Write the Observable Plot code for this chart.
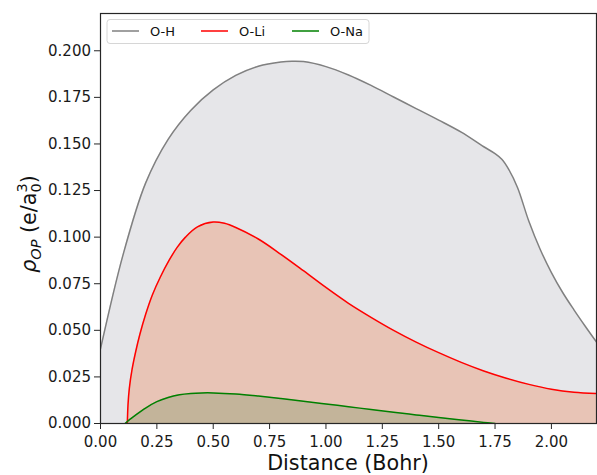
<!DOCTYPE html>
<html>
<head>
<meta charset="utf-8">
<script src="https://cdn.jsdelivr.net/npm/d3@7"></script>
<script src="https://cdn.jsdelivr.net/npm/@observablehq/plot@0.6"></script>
<style>
  html, body { margin: 0; padding: 0; background: #fff; }
  #chart svg { display: block; }
</style>
</head>
<body>
<div id="chart"></div>
<script>
// ---- data ----
const seriesNames = ["O-H", "O-Li", "O-Na"];

const ohX = [0, 0.1, 0.2, 0.3, 0.4, 0.5, 0.6, 0.7, 0.8, 0.85, 0.9, 1.0, 1.1, 1.2, 1.3, 1.4, 1.5, 1.6, 1.7, 1.75, 1.78, 1.81, 1.85, 1.90, 1.95, 2.00, 2.05, 2.10, 2.15, 2.20];
const ohY = [0.040, 0.0905, 0.129, 0.1525, 0.168, 0.179, 0.1868, 0.1917, 0.194, 0.1944, 0.1942, 0.1915, 0.187, 0.1814, 0.1752, 0.169, 0.1628, 0.1563, 0.1485, 0.1448, 0.1418, 0.1365, 0.1265, 0.1085, 0.0935, 0.081, 0.0703, 0.061, 0.0522, 0.0437];

const liX = [0.119, 0.122, 0.128, 0.14, 0.156, 0.175, 0.2, 0.23, 0.265, 0.304, 0.34, 0.377, 0.43, 0.5, 0.55, 0.6, 0.7, 0.8, 0.9, 1.0, 1.1, 1.2, 1.3, 1.4, 1.5, 1.6, 1.7, 1.8, 1.9, 2.0, 2.1, 2.2];
const liY = [0, 0.010, 0.019, 0.029, 0.0385, 0.048, 0.0585, 0.069, 0.0785, 0.0875, 0.0945, 0.100, 0.1055, 0.1081, 0.1074, 0.1052, 0.099, 0.0908, 0.082, 0.073, 0.0645, 0.057, 0.050, 0.0437, 0.038, 0.0328, 0.0282, 0.0243, 0.021, 0.0184, 0.0168, 0.0161];

const naX = [0.109, 0.13, 0.15, 0.2, 0.25, 0.3, 0.35, 0.4, 0.45, 0.5, 0.6, 0.7, 0.8, 0.9, 1.0, 1.1, 1.2, 1.3, 1.4, 1.5, 1.6, 1.7, 1.75];
const naY = [0, 0.0022, 0.004, 0.0083, 0.0117, 0.014, 0.0154, 0.0161, 0.0164, 0.0164, 0.0158, 0.0147, 0.0134, 0.012, 0.0105, 0.009, 0.0075, 0.006, 0.0046, 0.0032, 0.0019, 0.0006, 0];

const xTicks = [0, 0.25, 0.5, 0.75, 1.0, 1.25, 1.5, 1.75, 2.0];
const yTicks = [0, 0.025, 0.05, 0.075, 0.1, 0.125, 0.15, 0.175, 0.2];

const lineColors = ["#808080", "#ff0000", "#008000"];
const fillColors = ["#e6e6e9", "#e8c4b6", "#c3b49a"];

// ---- build tables ----
const toRows = (xs, ys, name) => xs.map((x, i) => ({x, y: ys[i], name}));
const oh = toRows(ohX, ohY, seriesNames[0]);
const li = toRows(liX, liY, seriesNames[1]);
const na = toRows(naX, naY, seriesNames[2]);
const all = [oh, li, na];

const W = 597, H = 475;
const curve = "catmull-rom";

const plot = Plot.plot({
  width: W,
  height: H,
  marginLeft: 100,
  marginRight: 1,
  marginTop: 13,
  marginBottom: 52,
  style: {fontFamily: "DejaVu Sans", background: "#fff"},
  x: {domain: [0, 2.2]},
  y: {domain: [0, 0.22]},
  marks: [
    ...all.map((d, i) => Plot.areaY(d, {x: "x", y: "y", fill: fillColors[i], curve, clip: true})),
    ...all.map((d, i) => Plot.line(d, {x: "x", y: "y", stroke: lineColors[i], strokeWidth: 1.5, curve, clip: true})),
    Plot.axisX({ticks: xTicks, tickFormat: d3.format(".2f"), tickSize: 6, tickPadding: 6.5,
      fontSize: 15, label: null, stroke: "#262626", color: "#1a1a1a"}),
    Plot.axisY({ticks: yTicks, tickFormat: d3.format(".3f"), tickSize: 6, tickPadding: 3.5,
      fontSize: 15, label: null, stroke: "#262626", color: "#1a1a1a"}),
    Plot.frame({stroke: "#262626", strokeWidth: 1.2})
  ]
});

document.getElementById("chart").appendChild(plot);

const svg = d3.select(plot);

// x label
svg.append("text")
  .attr("x", (100 + 596) / 2)
  .attr("y", 470)
  .attr("text-anchor", "middle")
  .attr("font-family", "DejaVu Sans")
  .attr("font-size", 20.7)
  .attr("fill", "#111")
  .text("Distance (Bohr)");

// y label (rotated) with sub/superscripts
const yl = svg.append("text")
  .attr("transform", "translate(36,224) rotate(-90)")
  .attr("text-anchor", "middle")
  .attr("font-family", "DejaVu Sans")
  .attr("font-size", 20.7)
  .attr("fill", "#111");
yl.append("tspan").attr("font-style", "italic").text("ρ");
yl.append("tspan").attr("font-style", "italic").attr("font-size", 14.5).attr("dy", 5).text("OP");
yl.append("tspan").attr("dy", -5).text(" (e/a");
yl.append("tspan").attr("font-size", 14.5).attr("dy", 5).text("0");
yl.append("tspan").attr("font-size", 14.5).attr("dx", -9.2).attr("dy", -14).text("3");
yl.append("tspan").attr("dy", 9).text(")");

// legend
const lg = svg.append("g");
lg.append("rect")
  .attr("x", 107).attr("y", 19.5).attr("width", 262).attr("height", 24)
  .attr("rx", 3).attr("fill", "#fff").attr("fill-opacity", 0.85)
  .attr("stroke", "#d6d6d6").attr("stroke-width", 1);
const legendX = [112, 201, 292];
seriesNames.forEach((name, i) => {
  lg.append("line")
    .attr("x1", legendX[i]).attr("x2", legendX[i] + 27)
    .attr("y1", 31).attr("y2", 31)
    .attr("stroke", lineColors[i]).attr("stroke-width", 1.5);
  lg.append("text")
    .attr("x", legendX[i] + 38).attr("y", 35.8)
    .attr("text-anchor", "start")
    .attr("font-family", "DejaVu Sans").attr("font-size", 13)
    .attr("fill", "#111")
    .text(name);
});
</script>
</body>
</html>
